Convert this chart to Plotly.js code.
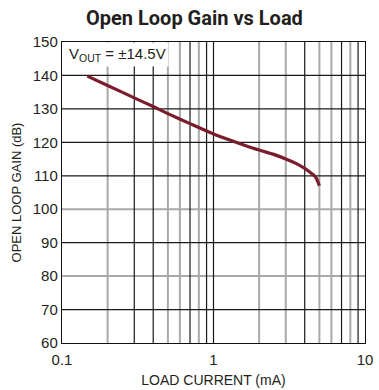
<!DOCTYPE html>
<html>
<head>
<meta charset="utf-8">
<script src="https://cdn.plot.ly/plotly-3.0.1.min.js"></script>
<style>html,body{margin:0;padding:0;background:#fff;}#chart{width:379px;height:390px;}</style>
</head>
<body>
<div id="chart"></div>
<script>
// Data
var loadCurrent = [0.147, 0.2, 0.3, 0.4, 0.5, 0.7, 1, 1.5, 2, 2.5, 3, 3.5, 4, 4.4, 4.7, 4.85, 5.0];
var openLoopGain = [139.8, 137.0, 133.3, 130.7, 128.6, 125.6, 122.5, 119.6, 117.7, 116.4, 115.0, 113.7, 112.2, 110.8, 109.7, 108.6, 107.0];
var xTickVals = [0.1, 1, 10];
var xTickText = ["0.1", "1", "10"];
var gridDarkX = [0.3, 0.4, 0.7, 0.9, 1, 4, 7, 9];
var gridLightX = [0.2, 0.5, 0.6, 0.8, 2, 3, 5, 6, 8];
var gridDarkY = [140, 130, 120, 110, 90, 70];
var gridLightY = [100, 80];

var shapes = [];
gridLightX.forEach(function(v){ shapes.push({type:'line', layer:'below', xref:'x', yref:'paper', x0:v, x1:v, y0:0, y1:1, line:{color:'#a9a9a9', width:2}}); });
gridLightY.forEach(function(v){ shapes.push({type:'line', layer:'below', xref:'paper', yref:'y', x0:0, x1:1, y0:v, y1:v, line:{color:'#a9a9a9', width:2}}); });
gridDarkX.forEach(function(v){ shapes.push({type:'line', layer:'below', xref:'x', yref:'paper', x0:v, x1:v, y0:0, y1:1, line:{color:'#1a1a1a', width:1.2}}); });
gridDarkY.forEach(function(v){ shapes.push({type:'line', layer:'below', xref:'paper', yref:'y', x0:0, x1:1, y0:v, y1:v, line:{color:'#1a1a1a', width:1.2}}); });

var trace = {
  x: loadCurrent, y: openLoopGain, type:'scatter', mode:'lines',
  line:{color:'#7a1c2c', width:3.2, shape:'spline', smoothing:0.6},
  hoverinfo:'skip'
};

var layout = {
  width:379, height:390,
  margin:{l:62, r:14, t:42, b:47},
  paper_bgcolor:'#fff', plot_bgcolor:'#fff',
  showlegend:false,
  title:{text:'Open Loop Gain vs Load', xref:'container', yref:'container', x:0.513, xanchor:'center', y:0.955, yanchor:'middle',
    font:{family:'Roboto, "Liberation Sans Narrow", sans-serif', weight:700, size:20, color:'#231f20'}},
  xaxis:{type:'log', range:[-1,1], tickvals:xTickVals, ticktext:xTickText, showgrid:false, zeroline:false,
    showline:true, linecolor:'#111', linewidth:1.2, mirror:true, ticks:'outside', ticklen:3, tickcolor:'rgba(0,0,0,0)',
    tickfont:{family:'"Liberation Sans", Arial, sans-serif', size:15, color:'#231f20'},
    title:{text:'LOAD CURRENT (mA)', standoff:8, font:{family:'"Liberation Sans", Arial, sans-serif', size:14, color:'#231f20'}}},
  yaxis:{range:[60,150], dtick:10, tick0:60, showgrid:false, zeroline:false,
    showline:true, linecolor:'#111', linewidth:1.2, mirror:true, ticks:'', ticklen:0,
    tickfont:{family:'"Liberation Sans", Arial, sans-serif', size:15, color:'#231f20'},
    title:{text:'OPEN LOOP GAIN (dB)', standoff:8, font:{family:'"Liberation Sans", Arial, sans-serif', size:13, color:'#231f20'}}},
  shapes: shapes,
  annotations:[{
    text:'V<sub>OUT</sub> = ±14.5V', xref:'paper', yref:'paper', x:0.012, y:0.958, xanchor:'left', yanchor:'middle',
    showarrow:false, bgcolor:'#ffffff', borderpad:2,
    font:{family:'"Liberation Sans", Arial, sans-serif', size:15, color:'#231f20'}
  }]
};

Plotly.newPlot('chart', [trace], layout, {staticPlot:true, displayModeBar:false});
</script>
</body>
</html>
